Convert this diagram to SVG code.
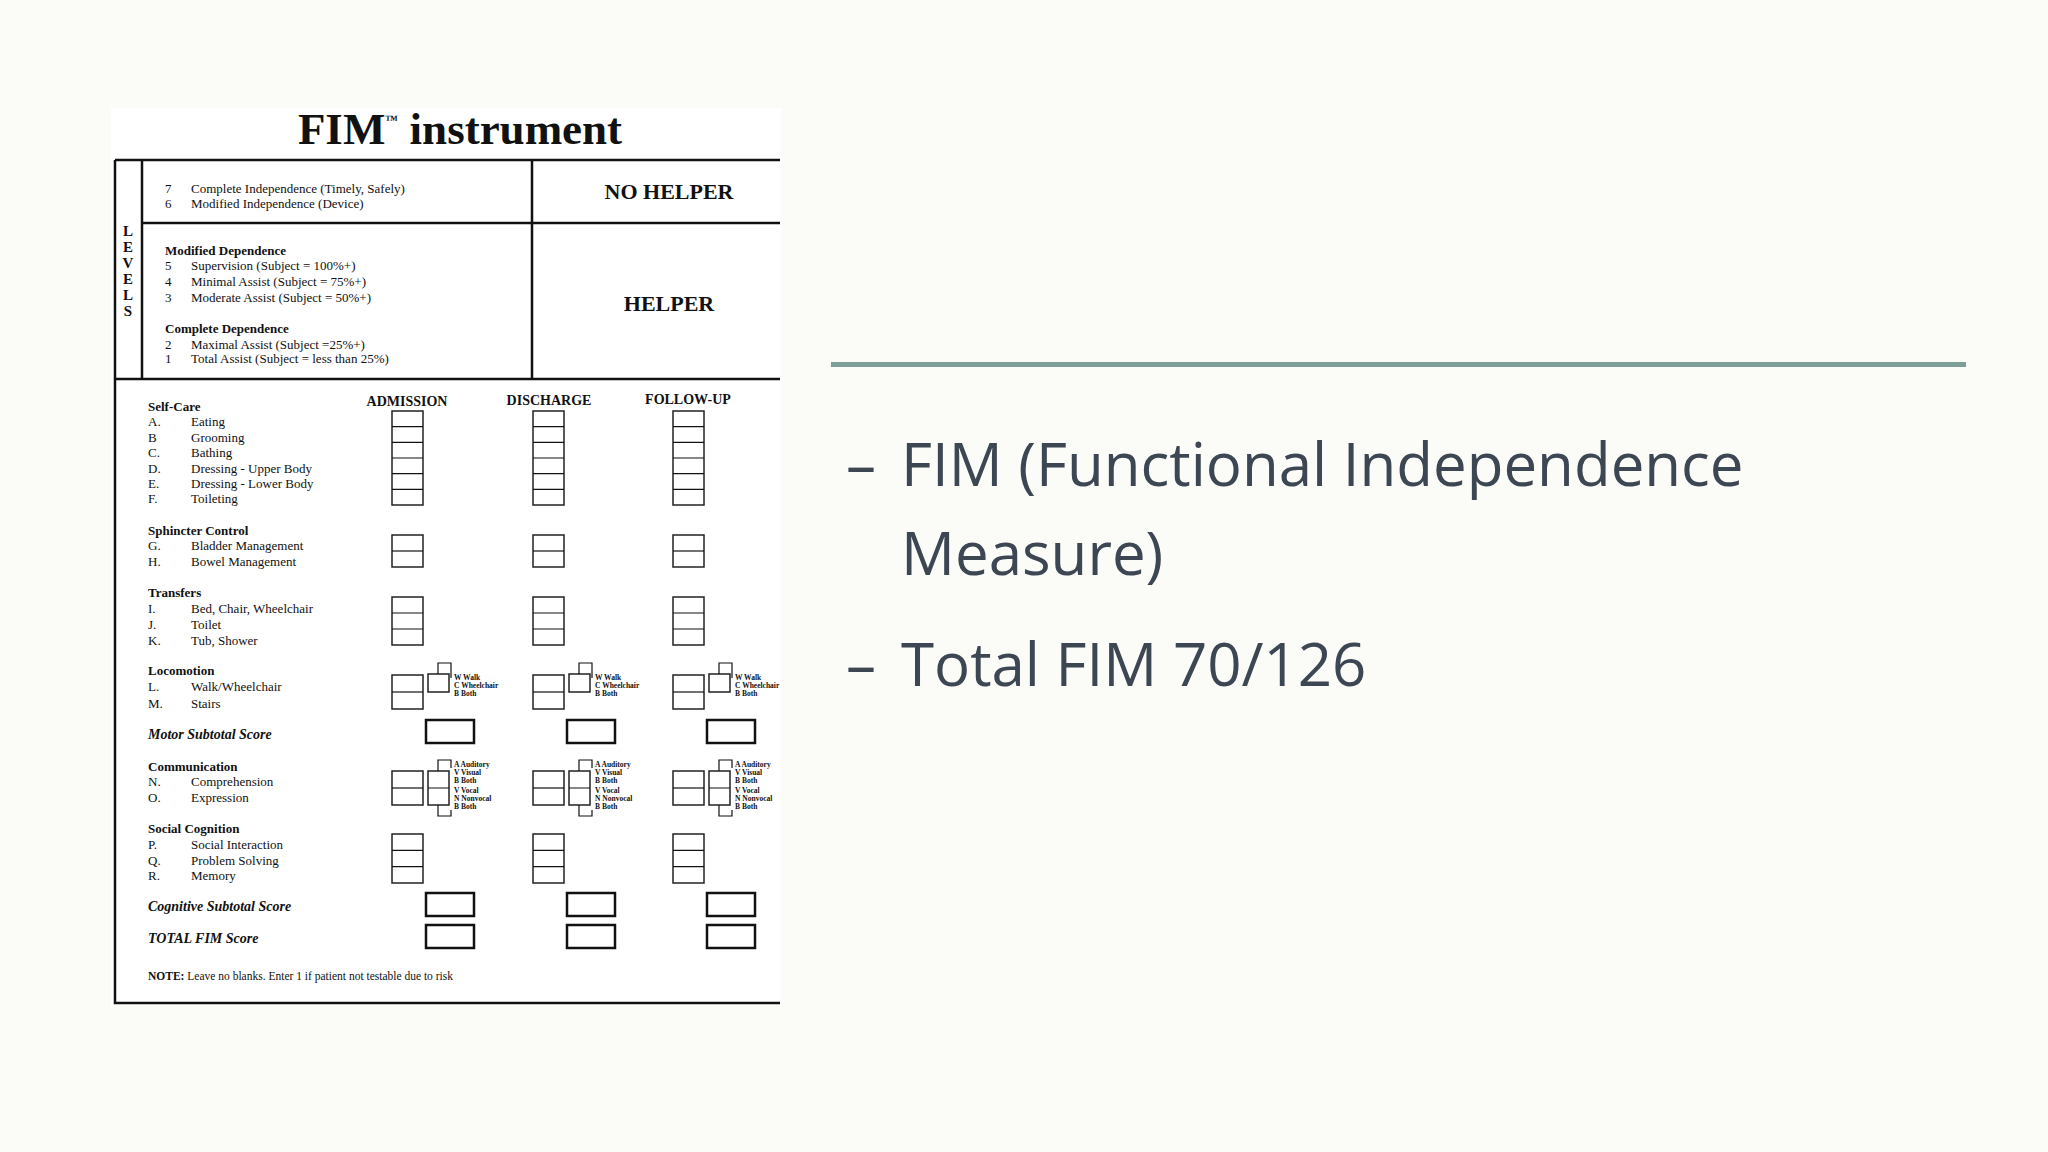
<svg xmlns="http://www.w3.org/2000/svg" xmlns:xlink="http://www.w3.org/1999/xlink" width="2048" height="1152" viewBox="0 0 2048 1152">
<style>
.f{font-family:"Liberation Serif","Times New Roman",serif;fill:#111}
.s{font-size:13px}
.b{font-weight:bold}
.h{font-size:14px;font-weight:bold}
.t{font-size:7.5px;font-weight:bold}
.ln{stroke:#111;fill:none}
.bx{stroke:#222;stroke-width:1.5;fill:#fff}
.tb{stroke:#111;stroke-width:2.5;fill:#fff}
.r{font-family:"Open Sans","Liberation Sans",sans-serif;font-size:60px;fill:#3d4753}
</style>
<defs>
<clipPath id="cp"><rect x="111" y="108" width="670" height="900"/></clipPath>
<g id="col">
<rect class="bx" x="392" y="411" width="31" height="94"/>
<path class="ln" stroke-width="1.2" d="M392 426.7H423M392 442.3H423M392 458H423M392 473.7H423M392 489.3H423"/>
<rect class="bx" x="392" y="535" width="31" height="32"/>
<path class="ln" stroke-width="1.2" d="M392 551H423"/>
<rect class="bx" x="392" y="597" width="31" height="48"/>
<path class="ln" stroke-width="1.2" d="M392 613H423M392 629H423"/>
<rect class="bx" x="392" y="675" width="31" height="34"/>
<path class="ln" stroke-width="1.2" d="M392 692H423"/>
<rect class="bx" x="428" y="674" width="21" height="18"/>
<path class="ln" stroke-width="1.2" d="M438 674V663H451V678"/>
<text class="f t" x="454" y="680">W  Walk</text>
<text class="f t" x="454" y="688">C  Wheelchair</text>
<text class="f t" x="454" y="696">B  Both</text>
<rect class="tb" x="426" y="720" width="48" height="23"/>
<rect class="bx" x="392" y="771" width="31" height="34"/>
<path class="ln" stroke-width="1.2" d="M392 788H423"/>
<rect class="bx" x="428" y="771" width="21" height="34"/>
<path class="ln" stroke-width="1.2" d="M428 788H449M438 771V760H451V768M438 805V816H451V810"/>
<text class="f t" x="454" y="767">A  Auditory</text>
<text class="f t" x="454" y="775">V  Visual</text>
<text class="f t" x="454" y="783">B  Both</text>
<text class="f t" x="454" y="793">V  Vocal</text>
<text class="f t" x="454" y="801">N  Nonvocal</text>
<text class="f t" x="454" y="809">B  Both</text>
<rect class="bx" x="392" y="834" width="31" height="49"/>
<path class="ln" stroke-width="1.2" d="M392 850.3H423M392 866.7H423"/>
<rect class="tb" x="426" y="893" width="48" height="23"/>
<rect class="tb" x="426" y="925" width="48" height="23"/>
</g>
</defs>
<rect width="2048" height="1152" fill="#fbfbf7"/>
<g id="form">
<rect x="111" y="108" width="670" height="898" fill="#fff"/>
<text class="f b" x="460" y="144" font-size="45" text-anchor="middle">FIM<tspan font-size="13" dy="-20">™</tspan><tspan dy="20"> instrument</tspan></text>
<path class="ln" stroke-width="2.5" d="M115 160H780M115 160V1003H780M142 160V379M115 379H780M142 223H780M532 160V379"/>
<text class="f b" font-size="15" text-anchor="middle"><tspan x="128" y="236">L</tspan><tspan x="128" y="252">E</tspan><tspan x="128" y="268">V</tspan><tspan x="128" y="284">E</tspan><tspan x="128" y="300">L</tspan><tspan x="128" y="316">S</tspan></text>
<g class="f s">
<text x="165" y="193">7</text><text x="191" y="193">Complete Independence (Timely, Safely)</text>
<text x="165" y="208">6</text><text x="191" y="208">Modified Independence (Device)</text>
<text class="b" x="165" y="255">Modified Dependence</text>
<text x="165" y="270">5</text><text x="191" y="270">Supervision (Subject = 100%+)</text>
<text x="165" y="286">4</text><text x="191" y="286">Minimal Assist (Subject = 75%+)</text>
<text x="165" y="302">3</text><text x="191" y="302">Moderate Assist (Subject = 50%+)</text>
<text class="b" x="165" y="333">Complete Dependence</text>
<text x="165" y="349">2</text><text x="191" y="349">Maximal Assist (Subject =25%+)</text>
<text x="165" y="363">1</text><text x="191" y="363">Total Assist (Subject = less than 25%)</text>
</g>
<text class="f b" x="669" y="199" font-size="22" text-anchor="middle">NO HELPER</text>
<text class="f b" x="669" y="311" font-size="22" text-anchor="middle">HELPER</text>
<text class="f h" x="407" y="406" text-anchor="middle">ADMISSION</text>
<text class="f h" x="549" y="405" text-anchor="middle">DISCHARGE</text>
<text class="f h" x="688" y="404" text-anchor="middle">FOLLOW-UP</text>
<g class="f s">
<text class="b" x="148" y="411">Self-Care</text>
<text x="148" y="426">A.</text><text x="191" y="426">Eating</text>
<text x="148" y="442">B</text><text x="191" y="442">Grooming</text>
<text x="148" y="457">C.</text><text x="191" y="457">Bathing</text>
<text x="148" y="473">D.</text><text x="191" y="473">Dressing - Upper Body</text>
<text x="148" y="488">E.</text><text x="191" y="488">Dressing - Lower Body</text>
<text x="148" y="503">F.</text><text x="191" y="503">Toileting</text>
<text class="b" x="148" y="535">Sphincter Control</text>
<text x="148" y="550">G.</text><text x="191" y="550">Bladder Management</text>
<text x="148" y="566">H.</text><text x="191" y="566">Bowel Management</text>
<text class="b" x="148" y="597">Transfers</text>
<text x="148" y="613">I.</text><text x="191" y="613">Bed, Chair, Wheelchair</text>
<text x="148" y="629">J.</text><text x="191" y="629">Toilet</text>
<text x="148" y="645">K.</text><text x="191" y="645">Tub, Shower</text>
<text class="b" x="148" y="675">Locomotion</text>
<text x="148" y="691">L.</text><text x="191" y="691">Walk/Wheelchair</text>
<text x="148" y="708">M.</text><text x="191" y="708">Stairs</text>
<text class="b" x="148" y="739" font-size="14" font-style="italic">Motor Subtotal Score</text>
<text class="b" x="148" y="771">Communication</text>
<text x="148" y="786">N.</text><text x="191" y="786">Comprehension</text>
<text x="148" y="802">O.</text><text x="191" y="802">Expression</text>
<text class="b" x="148" y="833">Social Cognition</text>
<text x="148" y="849">P.</text><text x="191" y="849">Social Interaction</text>
<text x="148" y="865">Q.</text><text x="191" y="865">Problem Solving</text>
<text x="148" y="880">R.</text><text x="191" y="880">Memory</text>
<text class="b" x="148" y="911" font-size="14" font-style="italic">Cognitive Subtotal Score</text>
<text class="b" x="148" y="943" font-size="14" font-style="italic">TOTAL FIM Score</text>
<text x="148" y="980" font-size="11.5"><tspan font-weight="bold">NOTE:</tspan> Leave no blanks. Enter 1 if patient not testable due to risk</text>
</g>
<g clip-path="url(#cp)">
<use xlink:href="#col"/>
<use xlink:href="#col" x="141"/>
<use xlink:href="#col" x="281"/>
</g>
</g>
<g id="bullets">
<rect x="831" y="362" width="1135" height="5" fill="#7d9f98"/>
<text class="r" x="846" y="486">– <tspan x="901">FIM (Functional Independence</tspan></text>
<text class="r" x="901" y="575">Measure)</text>
<text class="r" x="846" y="686">– <tspan x="901">Total FIM 70/126</tspan></text>
</g>
</svg>
